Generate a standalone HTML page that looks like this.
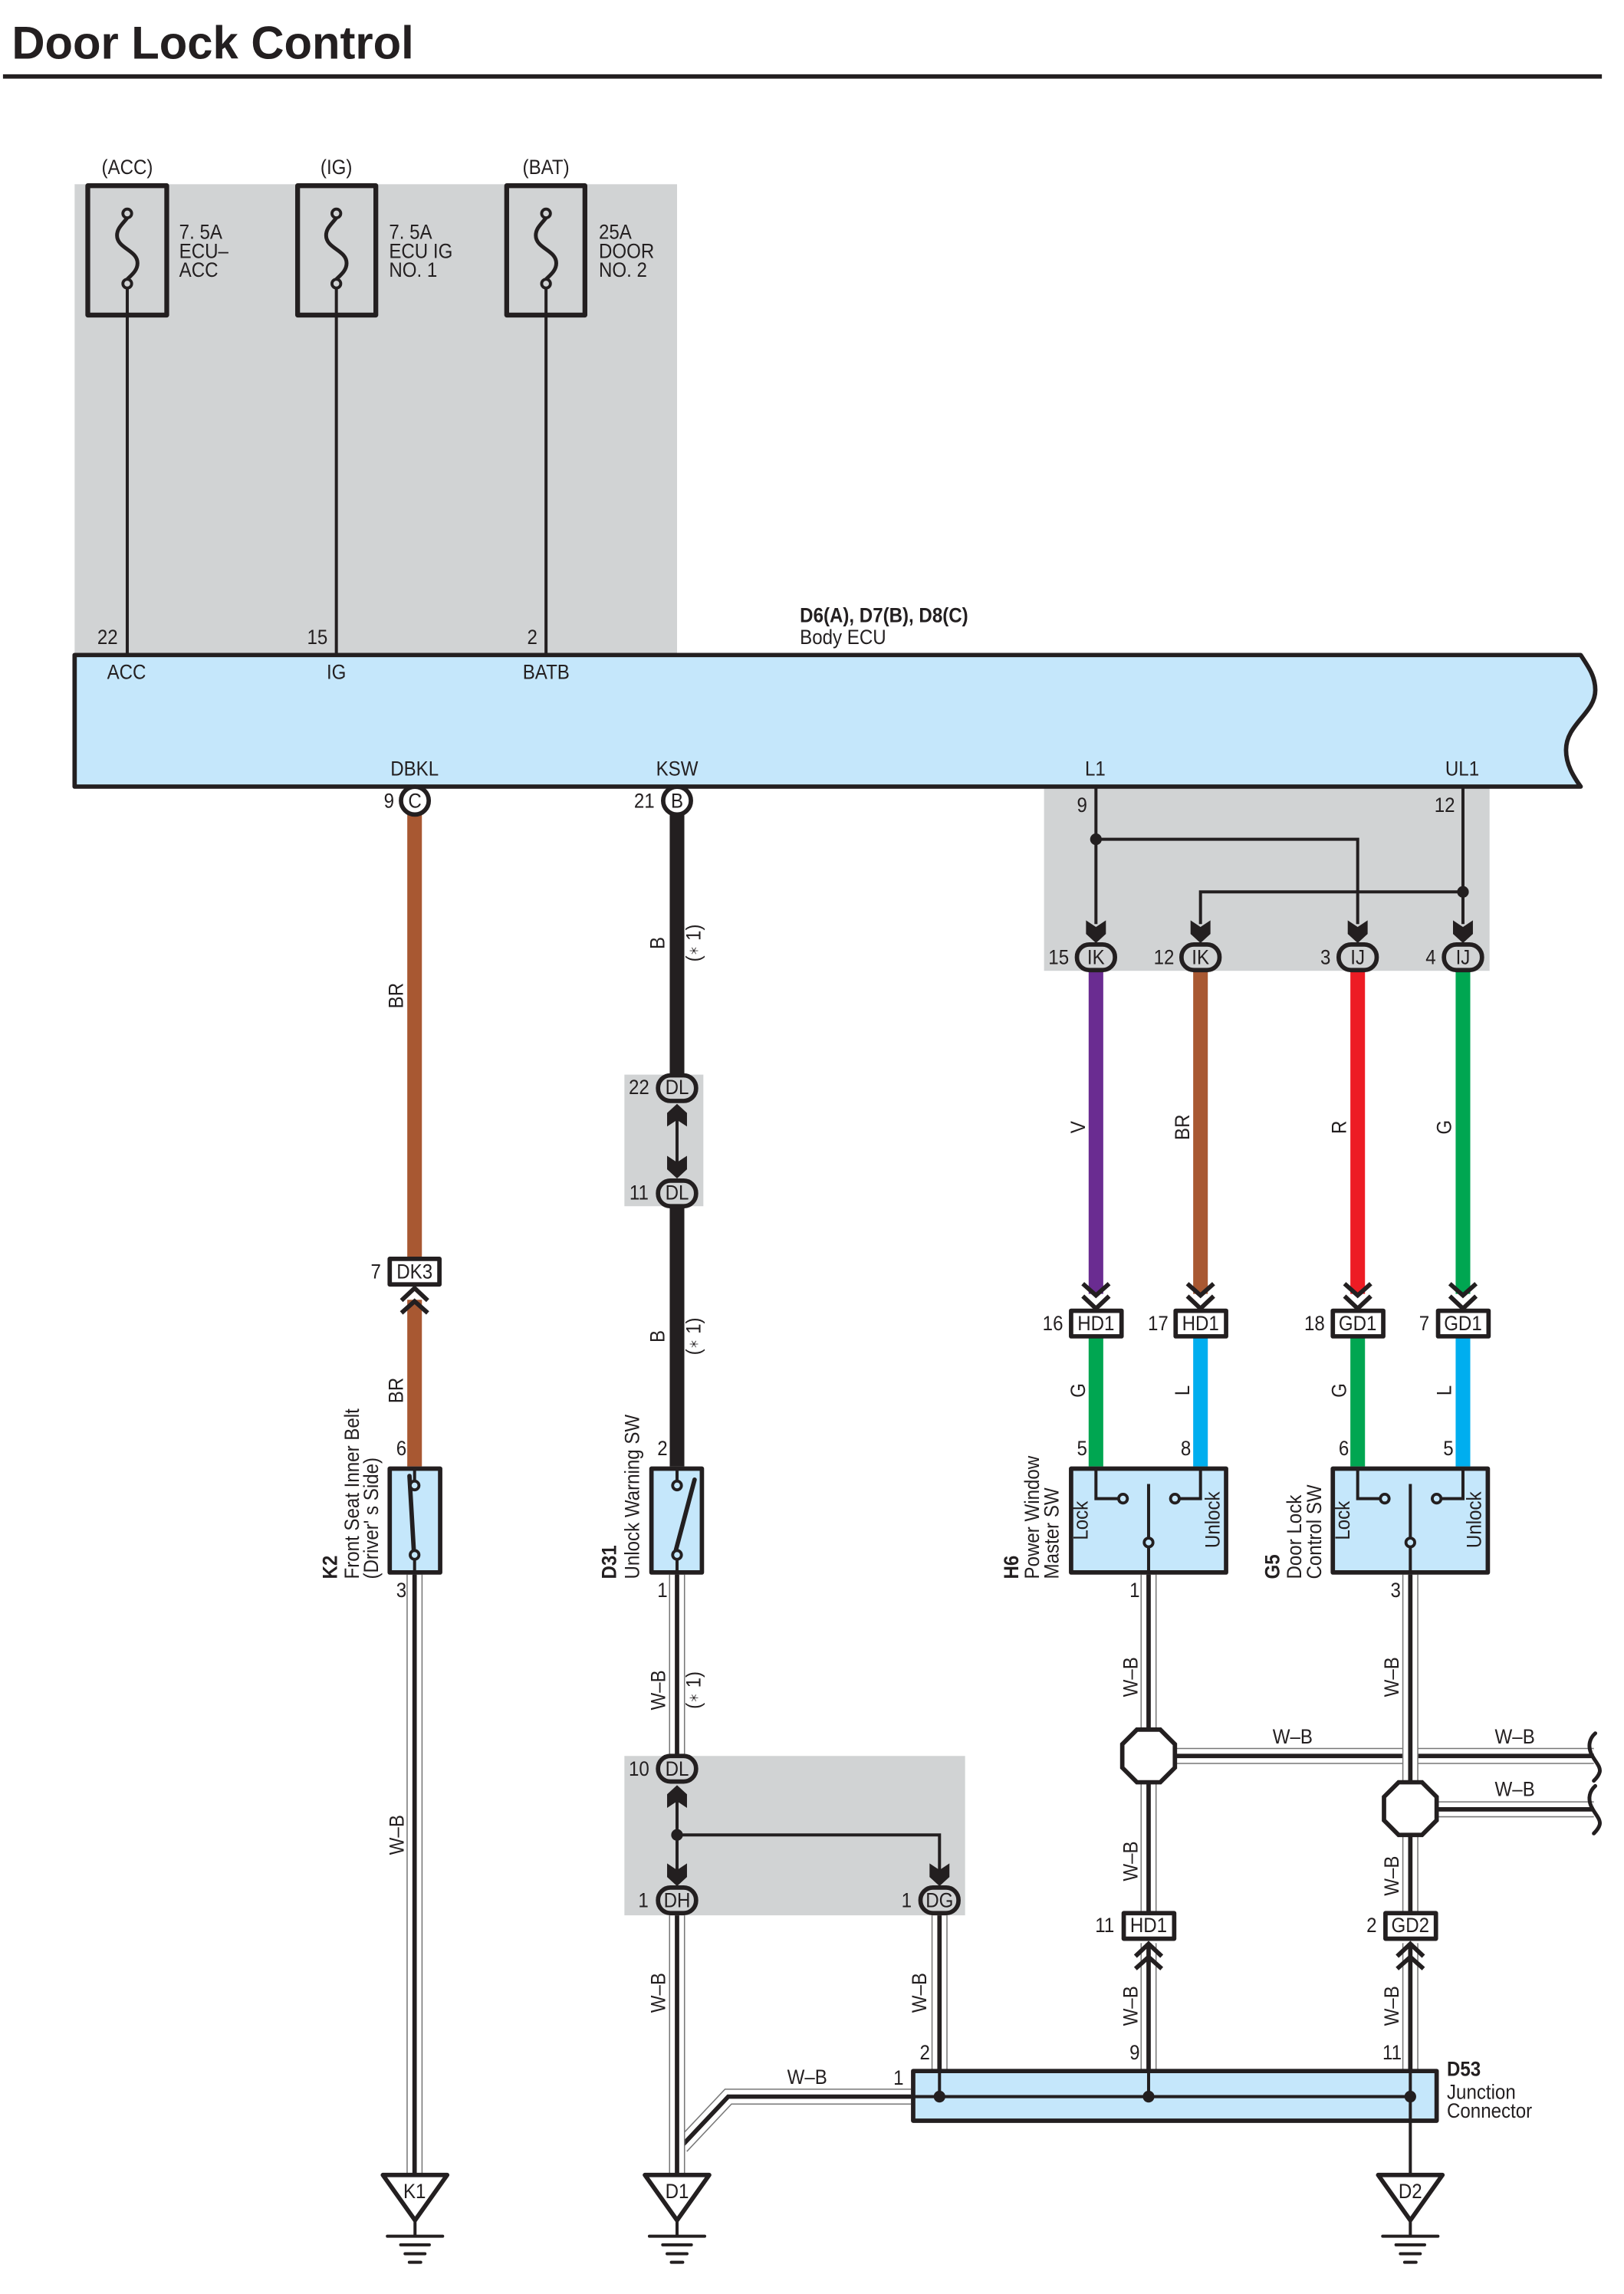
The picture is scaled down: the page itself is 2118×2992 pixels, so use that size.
<!DOCTYPE html>
<html><head><meta charset="utf-8"><title>Door Lock Control</title>
<style>
html,body{margin:0;padding:0;background:#fff}
svg{display:block}
text{font-family:"Liberation Sans",sans-serif;font-size:14.2px;fill:#231f20;text-anchor:middle;dominant-baseline:central;transform-box:fill-box;transform-origin:center;transform:scaleX(.89)}
text.l{text-anchor:start;transform-origin:0% 50%}
text.b{font-weight:bold}
text.t{font-size:31.5px;font-weight:bold;text-anchor:start;dominant-baseline:auto;transform:none}
.k{fill:none;stroke:#231f20;stroke-width:2.1}
.box{stroke:#231f20;stroke-width:3;stroke-linejoin:round}
.w{fill:none}
</style></head><body>
<svg xmlns="http://www.w3.org/2000/svg" width="2118" height="2992" viewBox="0 0 1110.6 1569">
<defs>
<path id="ad" d="M0,0 L-6.8,-6.2 V-15.5 L0,-11 L6.8,-15.5 V-6.2 Z" fill="#231f20"/>
<path id="cd" d="M-9,-17 L0,-9 L9,-17 M-9,-8.5 L0,0 L9,-8.5" fill="none" stroke="#231f20" stroke-width="3"/>
<g id="gnd">
<path d="M-22,0 H22 L0,31 Z" fill="#fff" stroke="#231f20" stroke-width="3" stroke-linejoin="round"/>
<path d="M0,31 V41.9 M-18.9,41.9 H18.9 M-9.8,47.8 H9.8 M-6.8,53.9 H6.8 M-3.9,59.7 H3.9" stroke="#231f20" stroke-width="2.1" fill="none" stroke-linecap="round"/>
</g>
<path id="fuse" d="M0,3 C-3,7 -7,10 -7,15 C-7,24 7,25 7,34 C7,39 3,42 0,45" fill="none" stroke="#231f20" stroke-width="2.6"/>
<path id="sq" d="M1091,1185.5 C1087,1189 1086,1194 1088,1199 C1090,1204 1095,1208 1094,1212 C1093.5,1214 1092,1216 1090,1218" fill="none" stroke="#231f20" stroke-width="2.6" stroke-linecap="round"/>
<path id="oct" d="M-8,-18 H8 L18,-8 V8 L8,18 H-8 L-18,8 V-8 Z" fill="#fff" stroke="#231f20" stroke-width="3"/>
</defs>

<text class="t" x="8" y="40" textLength="275" lengthAdjust="spacingAndGlyphs">Door Lock Control</text>
<rect x="2" y="50.8" width="1093.5" height="3" fill="#231f20"/>

<!-- grey panels -->
<g fill="#d1d3d4">
<rect x="51" y="126" width="412" height="322"/>
<rect x="714" y="538" width="304.7" height="126"/>
<rect x="427" y="735" width="54" height="90"/>
<rect x="427" y="1201" width="233" height="109"/>
</g>

<!-- W-B wires: horizontal / diagonal first -->
<g class="w">
<path d="M623,1434 H498 L466,1468 M804,1201 H1090 M983,1237.5 H1090" stroke="#777" stroke-width="11"/>
<path d="M623,1434 H498 L466,1468 M804,1201 H1090 M983,1237.5 H1090" stroke="#fff" stroke-width="9.4"/>
<path d="M623,1434 H498 L466,1468 M804,1201 H1090 M983,1237.5 H1090" stroke="#231f20" stroke-width="3"/>
<path d="M283.5,1077 V1488 M463,1077 V1201 M463,1310 V1488 M642.5,1310 V1417 M785.5,1077 V1182 M785.5,1220 V1308 M785.5,1329 V1417 M964.5,1077 V1219 M964.5,1256 V1308 M964.5,1329 V1417" stroke="#777" stroke-width="11"/>
<path d="M283.5,1077 V1488 M463,1077 V1201 M463,1310 V1488 M642.5,1310 V1417 M785.5,1077 V1182 M785.5,1220 V1308 M785.5,1329 V1417 M964.5,1077 V1219 M964.5,1256 V1308 M964.5,1329 V1417" stroke="#fff" stroke-width="9.4"/>
<path d="M283.5,1077 V1488 M463,1077 V1201 M463,1310 V1488 M642.5,1310 V1417 M785.5,1077 V1182 M785.5,1220 V1308 M785.5,1329 V1417 M964.5,1077 V1219 M964.5,1256 V1308 M964.5,1329 V1417" stroke="#231f20" stroke-width="3"/>
</g>

<!-- coloured wires -->
<g fill="none" stroke-width="10">
<path d="M283.5,555 V862 M283.5,889 V1003" stroke="#a85832"/>
<path d="M463,555 V736 M463,824 V1003" stroke="#231f20"/>
<path d="M749.5,664 V885" stroke="#6a2c91"/>
<path d="M821,664 V885" stroke="#a85832"/>
<path d="M928.5,664 V885" stroke="#ed1c24"/>
<path d="M1000.5,664 V885" stroke="#00a651"/>
<path d="M749.5,914 V1003" stroke="#00a651"/>
<path d="M821,914 V1003" stroke="#00aeef"/>
<path d="M928.5,914 V1003" stroke="#00a651"/>
<path d="M1000.5,914 V1003" stroke="#00aeef"/>
</g>

<!-- thin wires -->
<path class="k" d="M87,197 V448 M230,197 V448 M373.4,197 V448"/>
<path class="k" d="M749.5,538 V632 M749.5,574 H928.5 V632 M1000.5,538 V632 M1000.5,610 H821 V632"/>
<path class="k" d="M463,760 V800 M463,1225 V1280 M463,1255 H642.5 V1280"/>
<g fill="#231f20">
<circle cx="749.5" cy="574" r="4"/><circle cx="1000.5" cy="610" r="4"/><circle cx="463" cy="1255" r="4"/>
</g>

<!-- ECU -->
<path class="box" fill="#c5e7fb" d="M51,448 H1081 C1087,457 1091,463 1091,472 C1091,488 1071,495 1071,513 C1071,523 1076,531 1081,538 H51 Z"/>

<!-- fuses -->
<g>
<rect class="box" x="60" y="127" width="54" height="88.5" fill="none" style="stroke-width:3.3"/>
<rect class="box" x="203.5" y="127" width="53.5" height="88.5" fill="none" style="stroke-width:3.3"/>
<rect class="box" x="346.5" y="127" width="53.5" height="88.5" fill="none" style="stroke-width:3.3"/>
<use href="#fuse" transform="translate(87,146)"/>
<use href="#fuse" transform="translate(230,146)"/>
<use href="#fuse" transform="translate(373.4,146)"/>
<g fill="#d1d3d4" stroke="#231f20" stroke-width="2">
<circle cx="87" cy="146" r="3"/><circle cx="87" cy="194" r="3"/>
<circle cx="230" cy="146" r="3"/><circle cx="230" cy="194" r="3"/>
<circle cx="373.4" cy="146" r="3"/><circle cx="373.4" cy="194" r="3"/>
</g>
</g>

<!-- arrowheads -->
<use href="#ad" transform="translate(749.5,645)"/>
<use href="#ad" transform="translate(821,645)"/>
<use href="#ad" transform="translate(928.5,645)"/>
<use href="#ad" transform="translate(1000.5,645)"/>
<use href="#ad" transform="translate(463,755) rotate(180)"/>
<use href="#ad" transform="translate(463,806)"/>
<use href="#ad" transform="translate(463,1221) rotate(180)"/>
<use href="#ad" transform="translate(463,1290)"/>
<use href="#ad" transform="translate(642.5,1290)"/>

<!-- chevrons -->
<use href="#cd" transform="translate(283.5,881) scale(1,-1)"/>
<use href="#cd" transform="translate(749.5,895)"/>
<use href="#cd" transform="translate(821,895)"/>
<use href="#cd" transform="translate(928.5,895)"/>
<use href="#cd" transform="translate(1000.5,895)"/>
<use href="#cd" transform="translate(785.5,1329.5) scale(1,-1)"/>
<use href="#cd" transform="translate(964.5,1329.5) scale(1,-1)"/>

<!-- round connectors at ECU -->
<g fill="#fff" stroke="#231f20" stroke-width="3">
<circle cx="283.7" cy="547.6" r="9.5"/><circle cx="463" cy="547.6" r="9.5"/>
</g>

<!-- oval connectors -->
<g fill="#d1d3d4" stroke="#231f20" stroke-width="3">
<rect x="736.5" y="646" width="26" height="17.5" rx="8.5"/>
<rect x="808" y="646" width="26" height="17.5" rx="8.5"/>
<rect x="915.5" y="646" width="26" height="17.5" rx="8.5"/>
<rect x="987.5" y="646" width="26" height="17.5" rx="8.5"/>
<rect x="450" y="735.5" width="26" height="17.5" rx="8.5"/>
<rect x="450" y="807.5" width="26" height="17.5" rx="8.5"/>
<rect x="450" y="1201" width="26" height="17.5" rx="8.5"/>
<rect x="450" y="1291" width="26" height="17.5" rx="8.5"/>
<rect x="629.5" y="1291" width="26" height="17.5" rx="8.5"/>
</g>

<!-- rectangular connectors -->
<g fill="#fff" stroke="#231f20" stroke-width="3" stroke-linejoin="round">
<rect x="266.5" y="861" width="34" height="17.5"/>
<rect x="732.5" y="896.5" width="34.5" height="17.5"/>
<rect x="804" y="896.5" width="34.5" height="17.5"/>
<rect x="911.5" y="896.5" width="34.5" height="17.5"/>
<rect x="983.5" y="896.5" width="34.5" height="17.5"/>
<rect x="768.5" y="1308.5" width="34.5" height="17.5"/>
<rect x="947.5" y="1308.5" width="34.5" height="17.5"/>
</g>

<!-- switches -->
<g fill="#c5e7fb">
<rect class="box" x="266.5" y="1004.5" width="34.5" height="71"/>
<rect class="box" x="445.5" y="1004.5" width="34.5" height="71"/>
<rect class="box" x="732.5" y="1004.5" width="106" height="71"/>
<rect class="box" x="911.5" y="1004.5" width="106" height="71"/>
</g>
<path class="k" d="M283.5,1004 V1013 M283.5,1066 V1077 M463,1004 V1013 M463,1066 V1077"/>
<path d="M280,1009.5 L283,1061 M462,1061 L475,1012" fill="none" stroke="#231f20" stroke-width="3" stroke-linecap="round"/>
<path class="k" d="M749.5,1004 V1025 H765 M821,1004 V1025 H806.5 M785.5,1015 V1052 M785.5,1058 V1077 M928.5,1004 V1025 H944 M1000.5,1004 V1025 H985.5 M964.5,1015 V1052 M964.5,1058 V1077"/>
<g fill="#c5e7fb" stroke="#231f20" stroke-width="2">
<circle cx="283.5" cy="1016" r="3"/><circle cx="283.5" cy="1063.5" r="3"/>
<circle cx="463" cy="1016" r="3"/><circle cx="463" cy="1063.5" r="3"/>
<circle cx="768" cy="1025" r="3"/><circle cx="803.5" cy="1025" r="3"/><circle cx="785.5" cy="1055" r="3"/>
<circle cx="947" cy="1025" r="3"/><circle cx="982.5" cy="1025" r="3"/><circle cx="964.5" cy="1055" r="3"/>
</g>

<!-- octagon splices -->
<use href="#oct" transform="translate(785.5,1201)"/>
<use href="#oct" transform="translate(964.5,1237)"/>
<use href="#sq"/>
<use href="#sq" transform="translate(0,36)"/>

<!-- D53 -->
<rect class="box" x="624.5" y="1416.5" width="358" height="34" fill="#c5e7fb"/>
<path class="k" d="M623,1434 H964.5 M642.5,1416 V1434 M785.5,1416 V1434 M964.5,1416 V1488"/>
<g fill="#231f20"><circle cx="642.5" cy="1434" r="4"/><circle cx="785.5" cy="1434" r="4"/><circle cx="964.5" cy="1434" r="4"/></g>

<!-- grounds -->
<use href="#gnd" transform="translate(283.8,1487.6)"/>
<use href="#gnd" transform="translate(463,1487.6)"/>
<use href="#gnd" transform="translate(964.5,1487.6)"/>

<!-- horizontal labels -->
<text x="87" y="114.5">(ACC)</text>
<text x="230" y="114.5">(IG)</text>
<text x="373.4" y="114.5">(BAT)</text>
<text class="l" x="122.5" y="159">7. 5A</text><text class="l" x="122.5" y="172">ECU–</text><text class="l" x="122.5" y="185">ACC</text>
<text class="l" x="266" y="159">7. 5A</text><text class="l" x="266" y="172">ECU IG</text><text class="l" x="266" y="185">NO. 1</text>
<text class="l" x="409.5" y="159">25A</text><text class="l" x="409.5" y="172">DOOR</text><text class="l" x="409.5" y="185">NO. 2</text>
<text x="73.5" y="436">22</text><text x="217" y="436">15</text><text x="364" y="436">2</text>
<text x="86.5" y="460">ACC</text><text x="230" y="460">IG</text><text x="373.5" y="460">BATB</text>
<text class="l b" x="547" y="421">D6(A), D7(B), D8(C)</text>
<text class="l" x="547" y="436">Body ECU</text>
<text x="283.5" y="526">DBKL</text><text x="463" y="526">KSW</text><text x="749" y="526">L1</text><text x="1000" y="526">UL1</text>
<text x="266" y="548">9</text><text x="283.7" y="548">C</text><text x="440.6" y="548">21</text><text x="463" y="548">B</text>
<text x="740" y="551">9</text><text x="988" y="551">12</text>
<text x="724" y="655">15</text><text x="749.5" y="655">IK</text>
<text x="796" y="655">12</text><text x="821" y="655">IK</text>
<text x="906.5" y="655">3</text><text x="928.5" y="655">IJ</text>
<text x="978.5" y="655">4</text><text x="1000.5" y="655">IJ</text>
<text x="437" y="744">22</text><text x="463" y="744">DL</text>
<text x="437" y="816">11</text><text x="463" y="816">DL</text>
<text x="257" y="870">7</text><text x="283.5" y="870">DK3</text>
<text x="720" y="905.5">16</text><text x="749.5" y="905.5">HD1</text>
<text x="792" y="905.5">17</text><text x="821" y="905.5">HD1</text>
<text x="899" y="905.5">18</text><text x="928.5" y="905.5">GD1</text>
<text x="974" y="905.5">7</text><text x="1000.5" y="905.5">GD1</text>
<text x="274.5" y="991">6</text><text x="453" y="991">2</text>
<text x="740" y="991">5</text><text x="811" y="991">8</text><text x="919" y="991">6</text><text x="990.5" y="991">5</text>
<text x="274.5" y="1088">3</text><text x="453" y="1088">1</text><text x="776" y="1088">1</text><text x="954.5" y="1088">3</text>
<text x="884" y="1188">W–B</text><text x="1036" y="1188">W–B</text><text x="1036" y="1224">W–B</text>
<text x="437" y="1210">10</text><text x="463" y="1210">DL</text>
<text x="440" y="1300">1</text><text x="463" y="1300">DH</text>
<text x="620" y="1300">1</text><text x="642.5" y="1300">DG</text>
<text x="755.5" y="1317">11</text><text x="785.5" y="1317">HD1</text>
<text x="938" y="1317">2</text><text x="964.5" y="1317">GD2</text>
<text x="632.5" y="1404">2</text><text x="776" y="1404">9</text><text x="952" y="1404">11</text>
<text x="552" y="1421">W–B</text><text x="614.5" y="1421.5">1</text>
<text class="l b" x="989.5" y="1415.5">D53</text>
<text class="l" x="989.5" y="1431">Junction</text>
<text class="l" x="989.5" y="1444">Connector</text>
<text x="283.5" y="1499">K1</text><text x="463" y="1499">D1</text><text x="964.5" y="1499">D2</text>

<!-- rotated labels -->
<g transform="translate(271,681) rotate(-90)"><text>BR</text></g>
<g transform="translate(271,951) rotate(-90)"><text>BR</text></g>
<g transform="translate(271.5,1255) rotate(-90)"><text>W–B</text></g>
<g transform="translate(450,645) rotate(-90)"><text>B</text></g>
<g transform="translate(474.6,645) rotate(-90)"><text>(<tspan font-size="7.5">＊</tspan> 1)</text></g>
<g transform="translate(450,914) rotate(-90)"><text>B</text></g>
<g transform="translate(474.6,914) rotate(-90)"><text>(<tspan font-size="7.5">＊</tspan> 1)</text></g>
<g transform="translate(450.5,1156) rotate(-90)"><text>W–B</text></g>
<g transform="translate(474.6,1156) rotate(-90)"><text>(<tspan font-size="7.5">＊</tspan> 1)</text></g>
<g transform="translate(450.5,1363) rotate(-90)"><text>W–B</text></g>
<g transform="translate(629,1363) rotate(-90)"><text>W–B</text></g>
<g transform="translate(737.5,771) rotate(-90)"><text>V</text></g>
<g transform="translate(809,771) rotate(-90)"><text>BR</text></g>
<g transform="translate(916,771) rotate(-90)"><text>R</text></g>
<g transform="translate(988,771) rotate(-90)"><text>G</text></g>
<g transform="translate(737.5,951) rotate(-90)"><text>G</text></g>
<g transform="translate(809,951) rotate(-90)"><text>L</text></g>
<g transform="translate(916,951) rotate(-90)"><text>G</text></g>
<g transform="translate(988,951) rotate(-90)"><text>L</text></g>
<g transform="translate(773.5,1147) rotate(-90)"><text>W–B</text></g>
<g transform="translate(952,1147) rotate(-90)"><text>W–B</text></g>
<g transform="translate(773.5,1273) rotate(-90)"><text>W–B</text></g>
<g transform="translate(952,1283) rotate(-90)"><text>W–B</text></g>
<g transform="translate(773.5,1372) rotate(-90)"><text>W–B</text></g>
<g transform="translate(952,1372) rotate(-90)"><text>W–B</text></g>
<g transform="translate(739.5,1040) rotate(-90)"><text>Lock</text></g>
<g transform="translate(829.5,1039.5) rotate(-90)"><text>Unlock</text></g>
<g transform="translate(918.5,1040) rotate(-90)"><text>Lock</text></g>
<g transform="translate(1008.5,1039.5) rotate(-90)"><text>Unlock</text></g>
<g transform="translate(226,1080) rotate(-90)"><text class="l b">K2</text></g>
<g transform="translate(241,1080) rotate(-90)"><text class="l">Front Seat Inner Belt</text></g>
<g transform="translate(254,1080) rotate(-90)"><text class="l">(Driver' s Side)</text></g>
<g transform="translate(417,1080) rotate(-90)"><text class="l b">D31</text></g>
<g transform="translate(432.5,1080) rotate(-90)"><text class="l">Unlock Warning SW</text></g>
<g transform="translate(692,1080) rotate(-90)"><text class="l b">H6</text></g>
<g transform="translate(706,1080) rotate(-90)"><text class="l">Power Window</text></g>
<g transform="translate(719.5,1080) rotate(-90)"><text class="l">Master SW</text></g>
<g transform="translate(870.5,1080) rotate(-90)"><text class="l b">G5</text></g>
<g transform="translate(885.5,1080) rotate(-90)"><text class="l">Door Lock</text></g>
<g transform="translate(899,1080) rotate(-90)"><text class="l">Control SW</text></g>
</svg>
</body></html>
